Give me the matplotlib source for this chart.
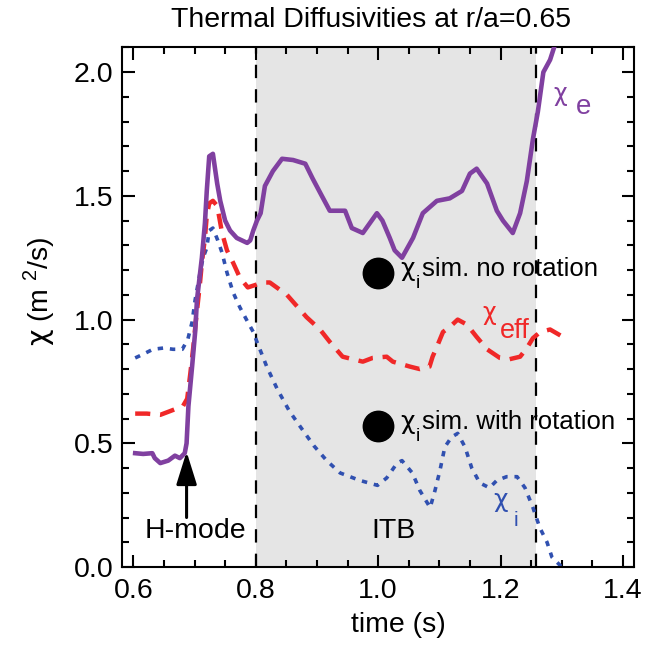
import numpy as np
import matplotlib
matplotlib.use('Agg')
import matplotlib.pyplot as plt
from matplotlib.ticker import MultipleLocator, FormatStrFormatter

plt.rcParams['font.family'] = ['Liberation Sans', 'DejaVu Sans']
plt.rcParams['mathtext.fontset'] = 'custom'
plt.rcParams['mathtext.rm'] = 'Liberation Sans'
plt.rcParams['mathtext.it'] = 'DejaVu Sans'
plt.rcParams['font.size'] = 20.5

PURPLE = '#8040a0'
RED = '#f02828'
BLUE = '#3050b0'

# chi_e (solid purple)
T_E = [0.603, 0.616, 0.631, 0.635, 0.644, 0.657, 0.668, 0.676, 0.684, 0.687,
       0.690, 0.696, 0.701, 0.704, 0.712, 0.717, 0.720, 0.724, 0.730, 0.737,
       0.742, 0.750, 0.758, 0.769, 0.786, 0.791, 0.796, 0.802, 0.808, 0.815,
       0.828, 0.843, 0.861, 0.881, 0.893, 0.908, 0.921, 0.946, 0.957, 0.975,
       0.998, 1.007, 1.019, 1.027, 1.039, 1.057, 1.073, 1.096, 1.117, 1.137,
       1.150, 1.161, 1.178, 1.194, 1.204, 1.220, 1.232, 1.243, 1.253, 1.261,
       1.270, 1.281, 1.294]
CHI_E = [0.46, 0.457, 0.46, 0.44, 0.42, 0.43, 0.45, 0.44, 0.46, 0.50,
         0.65, 0.81, 0.95, 1.08, 1.25, 1.39, 1.52, 1.66, 1.67, 1.55,
         1.48, 1.40, 1.36, 1.33, 1.31, 1.32, 1.36, 1.40, 1.43, 1.54,
         1.60, 1.65, 1.645, 1.63, 1.57, 1.50, 1.44, 1.44, 1.37, 1.35,
         1.43, 1.40, 1.33, 1.28, 1.25, 1.33, 1.43, 1.48, 1.49, 1.52,
         1.59, 1.61, 1.55, 1.44, 1.40, 1.35, 1.43, 1.56, 1.73, 1.84,
         2.00, 2.05, 2.15]

# chi_eff (dashed red)
T_EFF = [0.603, 0.622, 0.644, 0.660, 0.681, 0.688, 0.693, 0.698, 0.702, 0.709,
         0.712, 0.717, 0.720, 0.724, 0.730, 0.737, 0.745, 0.753, 0.763, 0.774,
         0.787, 0.812, 0.823, 0.851, 0.883, 0.905, 0.921, 0.942, 0.975, 0.991,
         1.014, 1.024, 1.052, 1.068, 1.084, 1.089, 1.096, 1.106, 1.117, 1.130,
         1.145, 1.161, 1.178, 1.199, 1.215, 1.232, 1.243, 1.253, 1.265, 1.281,
         1.302]
CHI_EFF = [0.62, 0.62, 0.615, 0.63, 0.65, 0.68, 0.78, 0.89, 0.99, 1.15,
           1.23, 1.33, 1.42, 1.47, 1.48, 1.46, 1.35, 1.28, 1.23, 1.17,
           1.13, 1.15, 1.15, 1.10, 1.01, 0.96, 0.91, 0.85, 0.83, 0.845,
           0.85, 0.83, 0.81, 0.80, 0.81, 0.85, 0.89, 0.95, 0.97, 1.00,
           0.98, 0.93, 0.88, 0.845, 0.84, 0.85, 0.885, 0.925, 0.95, 0.96,
           0.93]

# chi_i (dotted blue)
T_I = [0.603, 0.616, 0.632, 0.649, 0.665, 0.680, 0.689, 0.696, 0.701, 0.709,
       0.714, 0.720, 0.724, 0.730, 0.738, 0.745, 0.753, 0.763, 0.774, 0.787,
       0.796, 0.802, 0.818, 0.835, 0.855, 0.872, 0.895, 0.916, 0.938, 0.970,
       0.999, 1.014, 1.031, 1.039, 1.056, 1.068, 1.085, 1.093, 1.101, 1.109,
       1.120, 1.130, 1.142, 1.153, 1.166, 1.182, 1.194, 1.210, 1.227, 1.240,
       1.253, 1.264, 1.276, 1.284, 1.300]
CHI_I = [0.845, 0.86, 0.88, 0.885, 0.88, 0.88, 0.92, 0.99, 1.08, 1.19,
         1.25, 1.29, 1.36, 1.37, 1.32, 1.27, 1.19, 1.11, 1.05, 0.99,
         0.95, 0.91, 0.81, 0.72, 0.63, 0.57, 0.49, 0.43, 0.38, 0.35,
         0.33, 0.36, 0.42, 0.43, 0.38, 0.31, 0.24, 0.31, 0.39, 0.485,
         0.525, 0.54, 0.485, 0.40, 0.34, 0.32, 0.35, 0.365, 0.365, 0.32,
         0.24, 0.16, 0.10, 0.04, 0.0]

# simulated chi_i points
SIM_T = [1.0, 1.0]
SIM_CHI = [1.19, 0.57]
SIM_LABELS = ['sim. no rotation', 'sim. with rotation']

ITB_START, ITB_END = 0.8, 1.258
H_MODE_T = 0.687


def chi_label(ax, x, y, sub, color, chi_fs, sub_off, sub_fs, rest=None, rest_dx=0):
    # chi with an IDL-style dropped subscript, offsets in points
    ax.annotate('\u03c7', (x, y), xytext=(0, 0), textcoords='offset points',
                fontsize=chi_fs, family='DejaVu Sans', color=color,
                va='baseline', ha='left', zorder=6)
    ax.annotate(sub, (x, y), xytext=sub_off, textcoords='offset points',
                fontsize=sub_fs, color=color, va='baseline', ha='left', zorder=6)
    if rest:
        ax.annotate(rest, (x, y), xytext=(rest_dx, 0), textcoords='offset points',
                    fontsize=18.5, color=color, va='baseline', ha='left', zorder=6)


fig = plt.figure(figsize=(6.45, 6.46), dpi=100)
ax = fig.add_axes([0.1887, 0.1223, 0.7947, 0.8054])

ax.axvspan(ITB_START, ITB_END, color='#e5e5e5', lw=0, zorder=0)
for xv in (ITB_START, ITB_END):
    ax.axvline(xv, color='k', lw=1.6, ls=(0, (6.0, 5.0)), zorder=1)

ax.plot(T_I, CHI_I, color=BLUE, lw=2.6, ls=(0, (1.5, 1.9)), zorder=2)
ax.plot(T_EFF, CHI_EFF, color=RED, lw=3.2, ls=(0, (3.4, 2.2)), zorder=3)
ax.plot(T_E, CHI_E, color=PURPLE, lw=3.3, zorder=4)

ax.scatter(SIM_T, SIM_CHI, s=480, color='k', zorder=5)
for yv, lab in zip(SIM_CHI, SIM_LABELS):
    chi_label(ax, 1.036, yv - 0.014, 'i', 'k', 18, (11, -8.5), 14,
              rest=lab, rest_dx=15.5)

chi_label(ax, 1.287, 1.885, 'e', PURPLE, 17, (16, -9.4), 20)
chi_label(ax, 1.171, 1.0, 'eff', RED, 17, (12, -13), 19.5)
chi_label(ax, 1.188, 0.243, 'i', BLUE, 18, (14.5, -14), 15)

ax.annotate('', xy=(H_MODE_T, 0.466), xytext=(H_MODE_T, 0.20),
            arrowprops=dict(arrowstyle='-|>,head_length=0.8,head_width=0.25',
                            lw=2.2, color='k', mutation_scale=25,
                            shrinkA=0, shrinkB=0))
ax.text(0.702, 0.117, 'H-mode', ha='center', va='baseline')
ax.text(1.025, 0.117, 'ITB', ha='center', va='baseline')

ax.set_xlim(0.581, 1.4186)
ax.set_ylim(0, 2.103)
ax.xaxis.set_major_locator(MultipleLocator(0.2))
ax.xaxis.set_minor_locator(MultipleLocator(0.05))
ax.yaxis.set_major_locator(MultipleLocator(0.5))
ax.yaxis.set_minor_locator(MultipleLocator(0.1))
ax.xaxis.set_major_formatter(FormatStrFormatter('%.1f'))
ax.yaxis.set_major_formatter(FormatStrFormatter('%.1f'))
ax.tick_params(which='both', direction='in', top=True, right=True, width=1.5)
ax.tick_params(which='major', length=9)
ax.tick_params(which='minor', length=5)
ax.tick_params(axis='x', pad=8)
ax.tick_params(axis='y', pad=6)
for sp in ax.spines.values():
    sp.set_linewidth(1.5)

fig.text(0.575, 0.958, 'Thermal Diffusivities at r/a=0.65', ha='center', va='baseline')
fig.text(0.618, 0.022, 'time (s)', ha='center', va='baseline')
fig.text(0.06, 0.549, r'$\chi$ (m $^2$/s)', rotation=90, ha='center', va='center')

fig.savefig('out.png', dpi=100)
